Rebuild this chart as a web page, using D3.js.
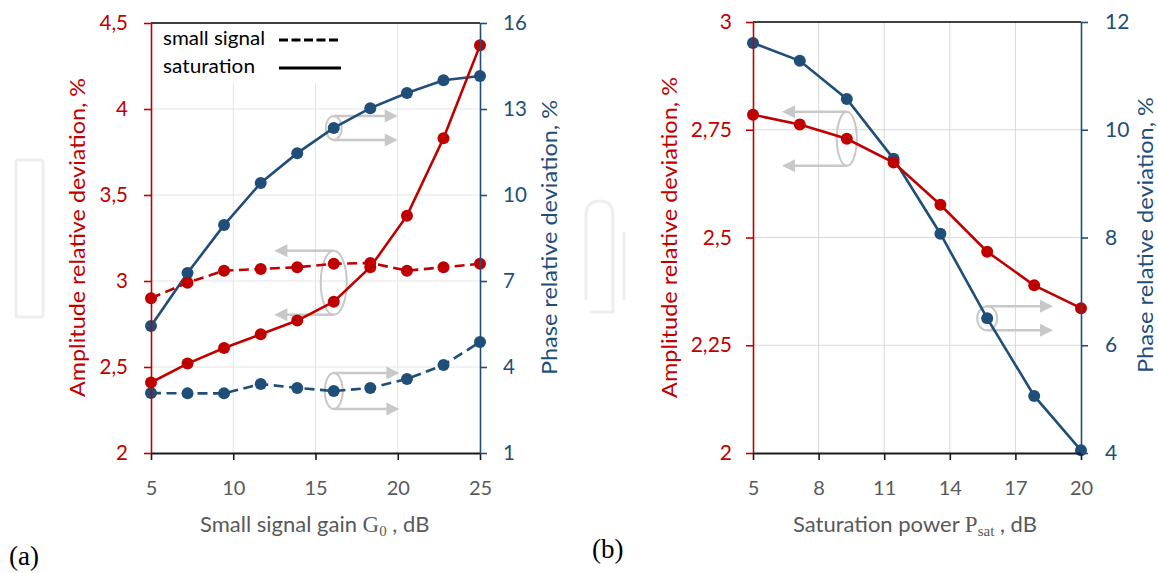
<!DOCTYPE html>
<html><head><meta charset="utf-8">
<script src="https://cdn.jsdelivr.net/npm/d3@7"></script>
<style>
html,body{margin:0;padding:0;background:#fff;}
svg{display:block;font-family:Lato,"Open Sans",sans-serif;}
</style></head>
<body>
<svg id="c" width="1158" height="573"></svg>
<script>
// ---------- DATA ----------
// (a) small signal gain sweep
const gainX      = [5, 7.22, 9.44, 11.67, 13.89, 16.11, 18.33, 20.56, 22.78, 25];
const ampSat     = [2.41, 2.52, 2.61, 2.69, 2.77, 2.88, 3.08, 3.38, 3.83, 4.37];
const ampSmall   = [2.90, 2.99, 3.06, 3.07, 3.08, 3.10, 3.105, 3.06, 3.08, 3.10];
const phaseSat   = [5.43, 7.28, 8.95, 10.42, 11.46, 12.34, 13.03, 13.56, 14.0, 14.15];
const phaseSmall = [3.09, 3.08, 3.08, 3.41, 3.27, 3.16, 3.27, 3.58, 4.07, 4.87];
const gainTicks  = [5, 10, 15, 20, 25];
const ampTicksA  = [2, 2.5, 3, 3.5, 4, 4.5];
const phTicksA   = [1, 4, 7, 10, 13, 16];
// (b) saturation power sweep
const psatX      = [5, 7.14, 9.29, 11.43, 13.57, 15.71, 17.86, 20];
const ampPsat    = [2.785, 2.762, 2.729, 2.674, 2.576, 2.467, 2.389, 2.336];
const phasePsat  = [11.61, 11.28, 10.57, 9.46, 8.07, 6.50, 5.06, 4.05];
const psatTicks  = [5, 8, 11, 14, 17, 20];
const ampTicksB  = [2, 2.25, 2.5, 2.75, 3];
const phTicksB   = [4, 6, 8, 10, 12];
// text
const legendLabels = ["small signal", "saturation"];
const ampTitle = "Amplitude relative deviation, %";
const phTitle  = "Phase relative deviation, %";

// ---------- STYLE ----------
const RED = "#C00000", BLUE = "#1F4E79", GRAY = "#595959", ANN = "#c8c8c8";
const fmt = d => String(d).replace(".", ",");

const svg = d3.select("#c");
svg.append("rect").attr("width",1158).attr("height",573).attr("fill","#fff");

// faint watermark shapes
const wm = svg.append("g").attr("fill","none").attr("stroke","#eeeeee").attr("stroke-width",3);
wm.append("rect").attr("x",16).attr("y",160).attr("width",27).attr("height",157).attr("rx",2);
wm.append("path").attr("d","M586,300 L586,216 Q586,201 600,201 Q613,201 613,216 L613,312 L590,312");
wm.append("path").attr("d","M624,232 L624,300");

function chart(cfg){
  const g = svg.append("g");
  const x = d3.scaleLinear().domain(cfg.xd).range([cfg.x0, cfg.x1]);
  const ya = d3.scaleLinear().domain(cfg.ad).range([cfg.yb, cfg.yt]);
  const yp = d3.scaleLinear().domain(cfg.pd).range([cfg.yb, cfg.yt]);

  // grid
  const grid = g.append("g").attr("stroke", cfg.gridColor).attr("stroke-width",1);
  grid.selectAll(".h").data(cfg.aTicks.slice(1,-1)).join("line")
    .attr("x1",cfg.x0).attr("x2",cfg.x1).attr("y1",d=>ya(d)).attr("y2",d=>ya(d));
  grid.selectAll(".v").data(cfg.xTicks.slice(1,-1)).join("line")
    .attr("x1",d=>x(d)).attr("x2",d=>x(d)).attr("y1",cfg.yt).attr("y2",cfg.yb);

  // top border
  g.append("line").attr("x1",cfg.x0).attr("x2",cfg.x1).attr("y1",cfg.yt).attr("y2",cfg.yt)
    .attr("stroke","#000").attr("stroke-width",1.5);

  if (cfg.legend) {
    g.append("rect").attr("x",cfg.x0+1).attr("y",cfg.yt+1).attr("width",198).attr("height",59).attr("fill","#fff");
    const lg = g.append("g");
    legendLabels.forEach((t,i)=>{
      const yy = cfg.yt + 22 + i*28;
      lg.append("text").attr("x",cfg.x0+12).attr("y",yy).attr("font-size",19.5)
        .attr("textLength", i===0?102:92).attr("lengthAdjust","spacingAndGlyphs").attr("fill","#000").text(t);
      lg.append("line").attr("x1",cfg.x0+128).attr("x2",cfg.x0+(i===0?187:190)).attr("y1",yy-5).attr("y2",yy-5)
        .attr("stroke","#000").attr("stroke-width",3).attr("stroke-dasharray", i===0?"9,3.5":null);
    });
  }

  // annotations (drawn under data)
  const an = g.append("g");
  cfg.ann.forEach(a=>{
    const cx = x(a.cx), cy = (a.axis==="a"? ya(a.cy) : yp(a.cy)), tip = x(a.tip);
    const dir = tip > cx ? 1 : -1;
    an.append("ellipse").attr("cx",cx).attr("cy",cy).attr("rx",a.rx).attr("ry",a.ry)
      .attr("fill","none").attr("stroke",ANN).attr("stroke-width",2);
    [cy-a.ry, cy+a.ry].forEach(yy=>{
      an.append("line").attr("x1",cx).attr("x2",tip-dir*11).attr("y1",yy).attr("y2",yy)
        .attr("stroke",ANN).attr("stroke-width",2.5);
      an.append("path").attr("d",`M${tip},${yy} L${tip-dir*13},${yy-6.5} L${tip-dir*13},${yy+6.5} Z`).attr("fill",ANN);
    });
  });

  // series
  cfg.series.forEach(s=>{
    const yS = s.axis==="a" ? ya : yp;
    const line = d3.line().x((d,i)=>x(s.xs[i])).y(d=>yS(d));
    g.append("path").datum(s.ys).attr("d",line).attr("fill","none")
      .attr("stroke",s.color).attr("stroke-width",2.6).attr("stroke-dasharray", s.dash? "10,5.5": null);
    g.selectAll(null).data(s.ys).join("circle")
      .attr("cx",(d,i)=>x(s.xs[i])).attr("cy",d=>yS(d)).attr("r",6).attr("fill",s.color);
  });

  // axes
  const axL = g.append("g").attr("transform",`translate(${cfg.x0},0)`)
    .call(d3.axisLeft(ya).tickValues(cfg.aTicks).tickFormat(fmt).tickSize(7).tickSizeOuter(0).tickPadding(cfg.padL));
  axL.selectAll("path,line").attr("stroke",RED).attr("stroke-width",1.6);
  axL.selectAll("text").attr("fill",RED).attr("font-size",cfg.yFont).attr("font-family","Lato");

  const axR = g.append("g").attr("transform",`translate(${cfg.x1},0)`)
    .call(d3.axisRight(yp).tickValues(cfg.pTicks).tickFormat(fmt).tickSize(7).tickSizeOuter(0).tickPadding(cfg.padR));
  axR.selectAll("path,line").attr("stroke",BLUE).attr("stroke-width",1.6);
  axR.selectAll("text").attr("fill",BLUE).attr("font-size",cfg.yFont).attr("font-family","Lato");

  const axB = g.append("g").attr("transform",`translate(0,${cfg.yb})`)
    .call(d3.axisBottom(x).tickValues(cfg.xTicks).tickSize(7).tickSizeOuter(0));
  axB.selectAll("path").attr("stroke","#1a1a1a").attr("stroke-width",2);
  axB.selectAll("line").attr("stroke","#1a1a1a").attr("stroke-width",1.6);
  axB.selectAll("text").attr("fill",GRAY).attr("font-size",20).attr("font-family","Lato")
    .attr("y",42).attr("dy",0);
  axL.raise(); axR.raise();

  // titles
  g.append("text").attr("transform",`translate(${cfg.tA[0]},${cfg.tA[1]}) rotate(-90)`)
    .attr("text-anchor","middle").attr("font-size",22).attr("fill",RED)
    .attr("textLength",cfg.tA[2]).attr("lengthAdjust","spacingAndGlyphs").text(ampTitle);
  g.append("text").attr("transform",`translate(${cfg.tP[0]},${cfg.tP[1]}) rotate(-90)`)
    .attr("text-anchor","middle").attr("font-size",22).attr("fill",BLUE)
    .attr("textLength",cfg.tP[2]).attr("lengthAdjust","spacingAndGlyphs").text(phTitle);

  const xt = g.append("text").attr("x",cfg.xt[0]).attr("y",532).attr("font-size",22).attr("fill",GRAY);
  xt.append("tspan").text(cfg.xt[1]);
  xt.append("tspan").attr("font-family","Liberation Serif, DejaVu Serif, serif").attr("font-size",23).text(cfg.xt[2]);
  xt.append("tspan").attr("font-family","Liberation Serif, DejaVu Serif, serif").attr("font-size",15).attr("dy",4).text(cfg.xt[3]);
  xt.append("tspan").attr("dy",-4).text(" , dB");

  svg.append("text").attr("x",cfg.lab[0]).attr("y",cfg.lab[1]).attr("font-family","Liberation Serif, DejaVu Serif, serif")
    .attr("font-size",27).attr("fill","#000").text(cfg.lab[2]);
}

chart({
  xd:[5,25], x0:151, x1:480, ad:[2,4.5], pd:[1,16], yt:23, yb:453,
  xTicks:gainTicks, aTicks:ampTicksA, pTicks:phTicksA, gridColor:"#e4e4e4",
  padL:16, padR:16, yFont:20.5, legend:true,
  series:[
    {xs:gainX, ys:phaseSmall, axis:"p", color:BLUE, dash:true},
    {xs:gainX, ys:phaseSat,   axis:"p", color:BLUE, dash:false},
    {xs:gainX, ys:ampSmall,   axis:"a", color:RED,  dash:true},
    {xs:gainX, ys:ampSat,     axis:"a", color:RED,  dash:false}
  ],
  ann:[
    {axis:"p", cx:gainX[5], cy:phaseSat[5], rx:8, ry:12, tip:20},
    {axis:"a", cx:gainX[5], cy:(ampSat[5]+ampSmall[5])/2, rx:13, ry:32, tip:12.5},
    {axis:"p", cx:gainX[5], cy:phaseSmall[5], rx:9, ry:18, tip:20.1}
  ],
  tA:[85,237.5,319], tP:[557,237.5,275],
  xt:[200,"Small signal gain ","G","0"],
  lab:[9,565,"(a)"]
});

chart({
  xd:[5,20], x0:753, x1:1081, ad:[2,3], pd:[4,12], yt:22, yb:453,
  xTicks:psatTicks, aTicks:ampTicksB, pTicks:phTicksB, gridColor:"#d9d9d9",
  padL:14, padR:17, yFont:21, legend:false,
  series:[
    {xs:psatX, ys:phasePsat, axis:"p", color:BLUE, dash:false},
    {xs:psatX, ys:ampPsat,   axis:"a", color:RED,  dash:false}
  ],
  ann:[
    {axis:"a", cx:psatX[2], cy:ampPsat[2], rx:10, ry:27, tip:6.33},
    {axis:"p", cx:psatX[5], cy:phasePsat[5], rx:10, ry:12, tip:18.72}
  ],
  tA:[677,237.5,321], tP:[1153,235,276],
  xt:[793,"Saturation power ","P","sat"],
  lab:[592,558,"(b)"]
});
</script>
</body></html>
